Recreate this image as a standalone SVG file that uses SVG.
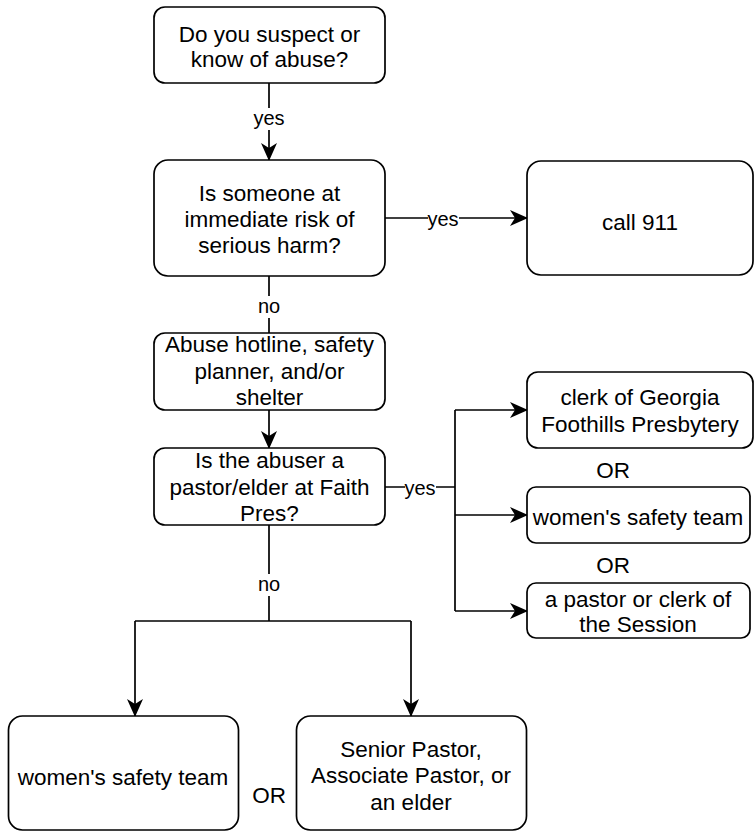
<svg xmlns="http://www.w3.org/2000/svg" width="755" height="831" viewBox="0 0 755 831">
<style>
.box{fill:#fff;stroke:#000;stroke-width:1.7}
.t{font-family:"Liberation Sans",Arial,sans-serif;font-size:22.5px;text-anchor:middle;fill:#000}
.lbl{font-family:"Liberation Sans",Arial,sans-serif;font-size:20px;text-anchor:middle;dominant-baseline:central;fill:#000}
.ln{fill:none;stroke:#000;stroke-width:1.7}
.bg{fill:#fff}
</style>
<defs>
<marker id="arr" markerUnits="userSpaceOnUse" markerWidth="18" markerHeight="16" viewBox="0 0 18 16" refX="17" refY="8" orient="auto">
<path d="M0,0 L18,8 L0,16 L5,8 Z" fill="#000"/>
</marker>
</defs>
<g id="connectors">
<line class="ln" x1="269" y1="83" x2="269" y2="160" marker-end="url(#arr)"/>
<rect class="bg" x="255" y="108" width="28" height="22"/>
<text class="lbl" x="269" y="118">yes</text>
<line class="ln" x1="385" y1="218" x2="527" y2="218" marker-end="url(#arr)"/>
<rect class="bg" x="428" y="208" width="31" height="20"/>
<text class="lbl" x="443" y="219">yes</text>
<line class="ln" x1="269" y1="276" x2="269" y2="333"/>
<rect class="bg" x="257" y="296" width="24" height="22"/>
<text class="lbl" x="269" y="306">no</text>
<line class="ln" x1="269" y1="410" x2="269" y2="448" marker-end="url(#arr)"/>
<path class="ln" d="M385,487 H455"/>
<path class="ln" d="M455,410 V611"/>
<path class="ln" d="M455,410 H527" marker-end="url(#arr)"/>
<path class="ln" d="M455,515 H527" marker-end="url(#arr)"/>
<path class="ln" d="M455,611 H527" marker-end="url(#arr)"/>
<rect class="bg" x="405" y="477" width="31" height="20"/>
<text class="lbl" x="420" y="488">yes</text>
<path class="ln" d="M269,525 V621"/>
<path class="ln" d="M135,621 H411"/>
<path class="ln" d="M135,621 V716" marker-end="url(#arr)"/>
<path class="ln" d="M411,621 V716" marker-end="url(#arr)"/>
<rect class="bg" x="257" y="574" width="24" height="22"/>
<text class="lbl" x="269" y="584">no</text>
</g>
<g id="n1">
<rect class="box" x="154" y="7" width="231" height="76" rx="11"/>
<text class="t" x="269.5" y="42">Do you suspect or</text>
<text class="t" x="269.5" y="67">know of abuse?</text>
</g>
<g id="n2">
<rect class="box" x="154" y="160" width="231" height="116" rx="14"/>
<text class="t" x="269.5" y="201">Is someone at</text>
<text class="t" x="269.5" y="227">immediate risk of</text>
<text class="t" x="269.5" y="253">serious harm?</text>
</g>
<g id="n911">
<rect class="box" x="527" y="161" width="226" height="114" rx="14"/>
<text class="t" x="640" y="230">call 911</text>
</g>
<g id="n3">
<rect class="box" x="154" y="333" width="231" height="77" rx="11"/>
<text class="t" x="269.5" y="352">Abuse hotline, safety</text>
<text class="t" x="269.5" y="379">planner, and/or</text>
<text class="t" x="269.5" y="405">shelter</text>
</g>
<g id="n4">
<rect class="box" x="154" y="448" width="231" height="77" rx="11"/>
<text class="t" x="269.5" y="468">Is the abuser a</text>
<text class="t" x="269.5" y="495">pastor/elder at Faith</text>
<text class="t" x="269.5" y="521">Pres?</text>
</g>
<g id="r1">
<rect class="box" x="527" y="372" width="226" height="76" rx="11"/>
<text class="t" x="640" y="405">clerk of Georgia</text>
<text class="t" x="640" y="432">Foothills Presbytery</text>
</g>
<g id="or1"><text class="t" x="613" y="478">OR</text></g>
<g id="r2">
<rect class="box" x="527" y="487" width="223" height="56" rx="9"/>
<text class="t" x="638" y="525">women's safety team</text>
</g>
<g id="or2"><text class="t" x="613" y="573">OR</text></g>
<g id="r3">
<rect class="box" x="527" y="583" width="223" height="55" rx="9"/>
<text class="t" x="638" y="607">a pastor or clerk of</text>
<text class="t" x="638" y="632">the Session</text>
</g>
<g id="b1">
<rect class="box" x="8.5" y="716" width="230" height="114" rx="14"/>
<text class="t" x="123" y="785">women's safety team</text>
</g>
<g id="or3"><text class="t" x="269" y="803">OR</text></g>
<g id="b2">
<rect class="box" x="296.5" y="716" width="230" height="114" rx="14"/>
<text class="t" x="411" y="757">Senior Pastor,</text>
<text class="t" x="411" y="783">Associate Pastor, or</text>
<text class="t" x="411" y="810">an elder</text>
</g>
</svg>
